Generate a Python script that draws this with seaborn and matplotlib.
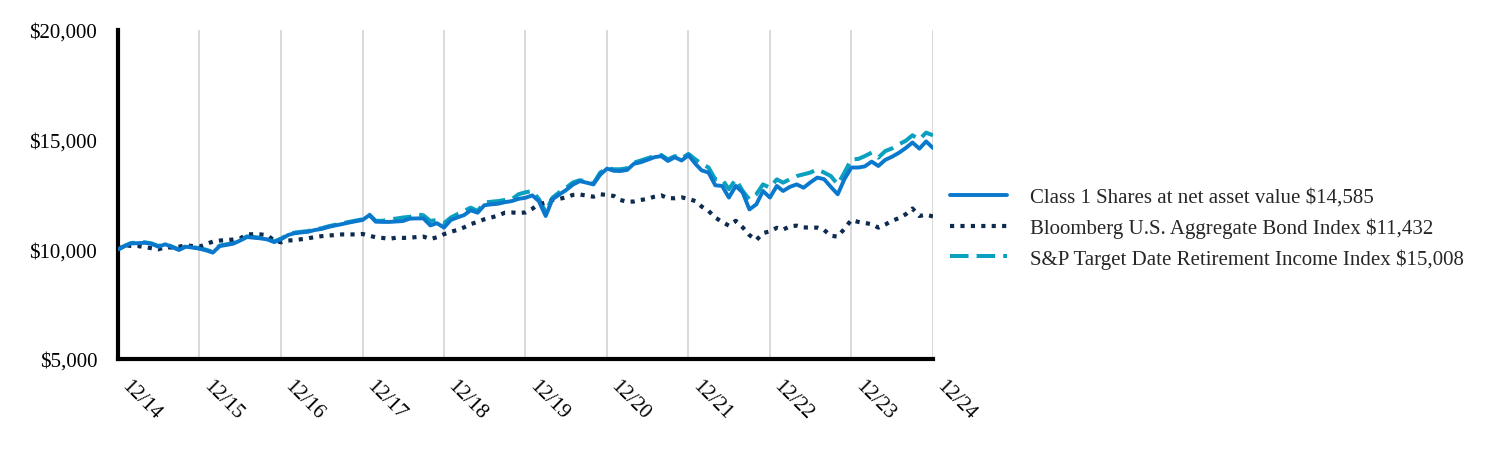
import matplotlib
matplotlib.use("Agg")
import matplotlib.pyplot as plt
import matplotlib.ticker as mticker
import numpy as np
import pandas as pd
import seaborn as sns

# ---- data (monthly, Dec 2014 .. Dec 2024) ----
dates = pd.date_range("2014-12-31", periods=121, freq="ME")

fund = [
    10000, 10150, 10270, 10280, 10300, 10250, 10120, 10230, 10100, 9970, 10120, 10080,
    10030, 9950, 9850, 10150, 10200, 10260, 10400, 10560, 10530, 10500, 10450, 10330,
    10460, 10650, 10730, 10770, 10800, 10880, 10930, 11020, 11090, 11150, 11220, 11280,
    11340, 11560, 11260, 11250, 11250, 11270, 11290, 11400, 11410, 11410, 11090, 11190,
    10990, 11340, 11450, 11560, 11780, 11670, 12010, 12050, 12080, 12150, 12200, 12300,
    12350, 12460, 12200, 11520, 12280, 12500, 12700, 12950, 13110, 13040, 12960, 13400,
    13680, 13580, 13570, 13620, 13900, 13970, 14080, 14200, 14250, 14030, 14200, 14050,
    14290, 13900, 13600, 13500, 12920, 12890, 12360, 12890, 12590, 11820, 12050, 12660,
    12360, 12890, 12660, 12850, 12960, 12810, 13050, 13270, 13200, 12850, 12510, 13200,
    13730, 13730, 13780, 14000, 13800, 14080, 14220, 14400, 14620, 14870, 14590, 14920,
    14620,
]

bond = [
    10000, 10200, 10150, 10150, 10100, 10050, 10000, 10100, 10080, 10120, 10180, 10150,
    10120, 10250, 10350, 10400, 10420, 10450, 10500, 10680, 10690, 10680, 10640, 10400,
    10320, 10400, 10420, 10460, 10500, 10560, 10600, 10630, 10650, 10680, 10680, 10680,
    10700, 10620, 10550, 10520, 10480, 10530, 10520, 10530, 10560, 10580, 10470, 10550,
    10690, 10800, 10880, 11000, 11150, 11250, 11370, 11450, 11540, 11670, 11680, 11660,
    11680, 11850, 12050, 12130, 12250, 12300, 12370, 12480, 12500, 12450, 12400, 12510,
    12480, 12430, 12250, 12170, 12180, 12250, 12300, 12400, 12460, 12330, 12330, 12370,
    12300, 12200, 11950, 11750, 11450, 11250, 11080, 11300, 11000, 10650, 10420, 10740,
    10820, 10980, 10900, 11050, 11080, 11000, 10990, 10990, 10880, 10620, 10580, 10940,
    11340, 11250, 11200, 11150, 10990, 11130, 11300, 11420, 11600, 11860, 11520, 11580,
    11500,
]

sp = [
    10000, 10170, 10290, 10300, 10320, 10270, 10150, 10250, 10120, 10000, 10140, 10100,
    10050, 9980, 9880, 10170, 10230, 10290, 10430, 10590, 10560, 10530, 10480, 10360,
    10490, 10680, 10760, 10800, 10830, 10910, 10960, 11050, 11120, 11180, 11250, 11310,
    11370, 11580, 11300, 11300, 11370, 11400, 11450, 11480, 11600, 11550, 11290, 11340,
    11190, 11450, 11600, 11750, 11900, 11750, 12130, 12170, 12200, 12250, 12280, 12510,
    12600, 12660, 12300, 11700, 12350, 12600, 12800, 13050, 13150, 13100, 13000, 13500,
    13700, 13650, 13650, 13700, 13950, 14050, 14150, 14250, 14300, 14100, 14250, 14150,
    14350, 14100, 13900, 13730, 13190, 13190, 12740, 13190, 12660, 12280, 12510, 12960,
    12810, 13190, 13040, 13200, 13340, 13420, 13500, 13650, 13500, 13340, 12960, 13500,
    14100, 14120, 14250, 14410, 14180, 14480, 14600, 14790, 14950, 15200, 15010, 15320,
    15200,
]

labels = [
    "Class 1 Shares at net asset value $14,585",
    "Bloomberg U.S. Aggregate Bond Index $11,432",
    "S&P Target Date Retirement Income Index $15,008",
]
year_ticks = pd.date_range("2014-12-31", periods=11, freq="12ME")
tick_labels = ["12/14", "12/15", "12/16", "12/17", "12/18", "12/19",
               "12/20", "12/21", "12/22", "12/23", "12/24"]
y_ticks = [5000, 10000, 15000, 20000]

df = pd.DataFrame({"date": dates, "fund": fund, "bond": bond, "sp": sp})

# ---- styling ----
sns.set_theme(style="white")
plt.rcParams["font.family"] = ["Liberation Serif", "DejaVu Serif"]

fig = plt.figure(figsize=(15.12, 4.56), dpi=100)
ax = fig.add_axes([118 / 1512, 1 - 360 / 456, (933 - 118) / 1512, (360 - 31) / 456])

c_fund = "#0A78CC"
c_bond = "#0D2B4E"
c_sp = "#0AA0C0"

for x in year_ticks:
    ax.axvline(x, color="#D9D9D9", lw=1.4, zorder=0)

sns.lineplot(data=df, x="date", y="sp", ax=ax, color=c_sp, lw=2.9,
             label=labels[2], zorder=2)
sns.lineplot(data=df, x="date", y="bond", ax=ax, color=c_bond, lw=3.0,
             label=labels[1], zorder=3)
sns.lineplot(data=df, x="date", y="fund", ax=ax, color=c_fund, lw=2.8,
             label=labels[0], zorder=4)

lines = ax.get_lines()
ln_sp, ln_bond, ln_fund = [l for l in lines if l.get_label() in labels][-3:]
ln_sp.set_dashes((4.6, 2.0))
ln_bond.set_dashes((1.0, 1.5))

ax.set_xlim(year_ticks[0], year_ticks[-1])
ax.set_ylim(5000, 20000)
ax.set_xticks(year_ticks)
ax.set_xticklabels(tick_labels, rotation=-45, ha="left", va="top",
                   rotation_mode="default")
ax.set_yticks(y_ticks)
ax.yaxis.set_major_formatter(mticker.FuncFormatter(lambda v, p: f"${v:,.0f}"))
ax.tick_params(axis="both", length=0, labelsize=15, colors="black")
ax.tick_params(axis="y", pad=15)
ax.tick_params(axis="x", pad=12)
ax.set_xlabel("")
ax.set_ylabel("")
ax.grid(False)

for s in ["top", "right"]:
    ax.spines[s].set_visible(False)
for s in ["left", "bottom"]:
    ax.spines[s].set_color("black")
    ax.spines[s].set_linewidth(3.0)

handles = [ln_fund, ln_bond, ln_sp]
leg = ax.legend(handles, labels, loc="center left",
                bbox_to_anchor=(950 / 1512, 1 - 229 / 456),
                bbox_transform=fig.transFigure, frameon=False,
                fontsize=15, handlelength=2.75, handletextpad=1.1,
                labelspacing=0.5, borderpad=0, borderaxespad=0)

fig.savefig("out.png", dpi=100)
